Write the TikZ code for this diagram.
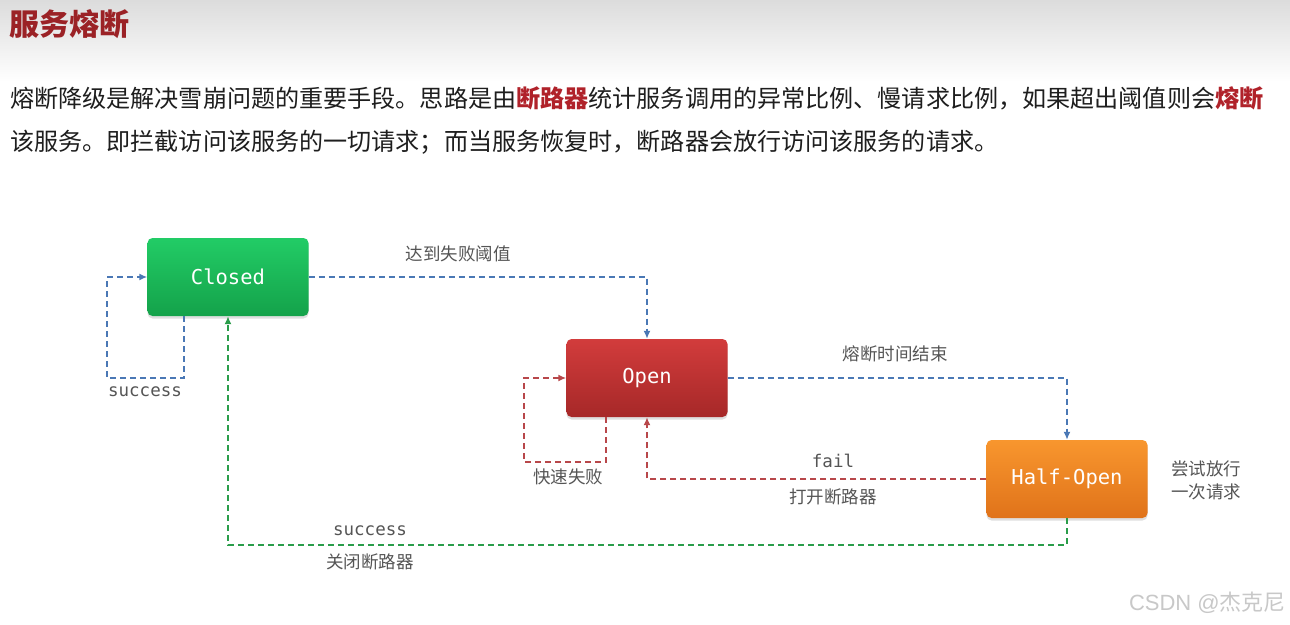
\documentclass[tikz,border=0pt]{standalone}
\usepackage{fontspec}
\setmainfont{Noto Sans CJK SC}
\newfontfamily\cjk{Noto Sans CJK SC}
\newfontfamily\monof{DejaVu Sans Mono}
\newfontfamily\wmfont{Liberation Sans}
\usetikzlibrary{arrows.meta,shadows}
\definecolor{titlered}{HTML}{9B2226}
\definecolor{boldred}{HTML}{B0222A}
\definecolor{bodytext}{HTML}{1E1E1E}
\definecolor{labelgray}{HTML}{555555}
\definecolor{lnblue}{HTML}{4A78B5}
\definecolor{lnred}{HTML}{B8474A}
\definecolor{lngreen}{HTML}{2A9D4A}
\definecolor{gtop}{HTML}{22CC66}
\definecolor{gbot}{HTML}{14A24A}
\definecolor{rtop}{HTML}{D23C3C}
\definecolor{rbot}{HTML}{A62828}
\definecolor{otop}{HTML}{F8962E}
\definecolor{obot}{HTML}{E0731A}
\tikzset{
  statebox/.style={rounded corners=5pt, minimum width=161pt, minimum height=78pt,
    text=white, font=\monof\fontsize{20.5}{24}\selectfont,
    drop shadow={opacity=0.25, shadow xshift=0pt, shadow yshift=-2.5pt}},
  conn/.style={line width=1.6pt, dash pattern=on 6pt off 4pt, -{Latex[length=8pt,width=7pt]}},
  bluedash/.style={conn, draw=lnblue},
  reddash/.style={conn, draw=lnred},
  greendash/.style={conn, draw=lngreen},
  lbl/.style={text=labelgray, font=\cjk\fontsize{17.5}{21}\selectfont, inner sep=0pt},
  mlbl/.style={text=labelgray, font=\monof\fontsize{17.5}{21}\selectfont, inner sep=0pt},
  para/.style={anchor=west, inner sep=0pt, text=bodytext, font=\cjk\fontsize{24.1}{30}\selectfont}
}
\begin{document}
\begin{tikzpicture}[x=1pt,y=-1pt]
\useasboundingbox (0,0) rectangle (1290,624);
\fill[white] (0,0) rectangle (1290,624);
\shade[top color={rgb,255:red,220;green,220;blue,220}, bottom color=white] (0,0) rectangle (1290,82);

\node[anchor=west, inner sep=0pt, text=titlered, font=\cjk\bfseries\fontsize{30}{34}\selectfont] (title) at (9,24) {服务熔断};

\node[para] (line1) at (10,98) {熔断降级是解决雪崩问题的重要手段。思路是由{\color{boldred}\bfseries 断路器}统计服务调用的异常比例、慢请求比例，如果超出阈值则会{\color{boldred}\bfseries 熔断}};
\node[para] (line2) at (10,142) {该服务。即拦截访问该服务的一切请求；而当服务恢复时，断路器会放行访问该服务的请求。};

\node[statebox, top color=gtop, bottom color=gbot] (closed) at (228,277) {Closed};
\node[statebox, top color=rtop, bottom color=rbot] (open) at (647,378) {Open};
\node[statebox, top color=otop, bottom color=obot] (half) at (1067,479) {Half-Open};

\coordinate (c1) at (107,378);
\coordinate (c2) at (524,462);
\coordinate (c3) at (228,545);

\draw[bluedash] (closed.east) -| (open.north);
\draw[bluedash] ([xshift=-44pt]closed.south) |- (c1) |- (closed.west);
\draw[bluedash] (open.east) -| (half.north);
\draw[reddash] ([xshift=-41pt]open.south) |- (c2) |- (open.west);
\draw[reddash] (half.west) -| (open.south);
\draw[greendash] (half.south) |- (closed.south |- c3) -- (closed.south);

\node[lbl] (l1) at (458,254) {达到失败阈值};
\node[mlbl] (l2) at (145,392) {success};
\node[lbl] (l3) at (895,354) {熔断时间结束};
\node[lbl] (l4) at (568,477) {快速失败};
\node[mlbl] (l5) at (833,461) {fail};
\node[lbl] (l6) at (833,497) {打开断路器};
\node[mlbl] (l7) at (370,531) {success};
\node[lbl] (l8) at (370,562) {关闭断路器};
\node[lbl, align=left] (l9) at (1206,480) {尝试放行\\[2pt]一次请求};

\node[anchor=east, inner sep=0pt, text={rgb,255:red,200;green,200;blue,200}, font=\wmfont\fontsize{22}{26}\selectfont] (wm) at (1286,603) {CSDN @{\cjk 杰克尼}};
\end{tikzpicture}
\end{document}
